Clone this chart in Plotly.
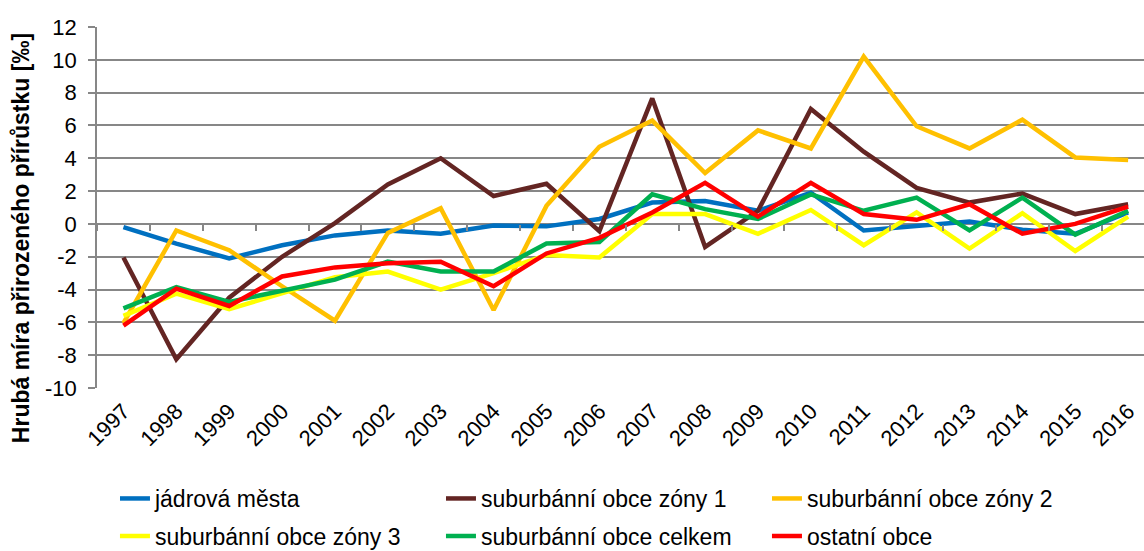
import plotly.graph_objects as go

years = [str(y) for y in range(1997, 2017)]

jadrova_mesta = [-0.2, -1.2, -2.1, -1.3, -0.7, -0.4, -0.6, -0.1, -0.15, 0.3, 1.3, 1.4, 0.8,
                 1.9, -0.4, -0.15, 0.15, -0.35, -0.6, 0.7]
zona1 = [-2.05, -8.25, -4.5, -2.0, 0.05, 2.4, 4.0, 1.7, 2.45, -0.45, 7.65, -1.4, 0.8,
         7.0, 4.4, 2.2, 1.3, 1.85, 0.6, 1.2]
zona2 = [-6.05, -0.4, -1.6, -3.8, -5.9, -0.55, 0.95, -5.25, 1.1, 4.7, 6.3, 3.1, 5.7,
         4.6, 10.2, 5.95, 4.6, 6.35, 4.05, 3.9]
zona3 = [-5.6, -4.25, -5.2, -4.2, -3.25, -2.9, -4.0, -3.0, -1.9, -2.05, 0.6, 0.6, -0.6,
         0.85, -1.3, 0.7, -1.5, 0.65, -1.65, 0.45]
celkem = [-5.15, -3.85, -4.75, -4.05, -3.4, -2.3, -2.9, -2.9, -1.2, -1.1, 1.8, 0.9, 0.3,
          1.8, 0.8, 1.6, -0.4, 1.6, -0.65, 0.8]
ostatni = [-6.2, -3.95, -5.0, -3.2, -2.65, -2.4, -2.3, -3.8, -1.8, -0.85, 0.7, 2.5, 0.45,
           2.5, 0.6, 0.25, 1.2, -0.6, 0.0, 1.05]

y_ticks = list(range(-10, 13, 2))
y_ticktext = [str(v) for v in y_ticks]  # plain hyphen minus as in the reference

series = [
    ("jádrová města", jadrova_mesta, "#0070C0", "legend"),
    ("suburbánní obce zóny 1", zona1, "#632523", "legend"),
    ("suburbánní obce zóny 2", zona2, "#FFC000", "legend"),
    ("suburbánní obce zóny 3", zona3, "#FFFF00", "legend2"),
    ("suburbánní obce celkem", celkem, "#00B050", "legend2"),
    ("ostatní obce", ostatni, "#FF0000", "legend2"),
]

FONT = "Liberation Sans, Arial, sans-serif"
GRID = "#878787"

fig = go.Figure()
for name, vals, color, leg in series:
    fig.add_trace(go.Scatter(
        x=list(range(len(years))), y=vals, name=name, mode="lines",
        line=dict(color=color, width=4.5), legend=leg,
    ))

# helper axis crossing at y=0 with boundary tick marks
fig.add_trace(go.Scatter(x=[0], y=[0], xaxis="x2", mode="markers",
                         marker=dict(opacity=0), showlegend=False, hoverinfo="skip"))

fig.update_layout(
    width=1144, height=551,
    margin=dict(l=97, r=0, t=27, b=163, autoexpand=False),
    paper_bgcolor="white", plot_bgcolor="white",
    font=dict(family=FONT, size=22, color="black"),
    xaxis=dict(
        range=[-0.5, 19.3], tickmode="array",
        tickvals=list(range(len(years))), ticktext=years,
        tickangle=-45, ticks="", showgrid=False, zeroline=False,
        showline=False, ticklabelstandoff=5, automargin=False,
        tickfont=dict(size=22),
    ),
    xaxis2=dict(
        overlaying="x", anchor="free", position=10 / 22, side="bottom",
        range=[-0.5, 19.3], tickmode="array",
        tickvals=[i + 0.5 for i in range(-1, len(years))],
        showticklabels=False, ticks="outside", ticklen=6, tickwidth=1.5,
        tickcolor=GRID, showgrid=False, zeroline=False,
        showline=False,
    ),
    yaxis=dict(
        range=[-10, 12], tickmode="array", tickvals=y_ticks, ticktext=y_ticktext,
        showgrid=True, gridcolor=GRID, gridwidth=1.6,
        zeroline=False, showline=True, linecolor=GRID, linewidth=1.6,
        ticks="outside", ticklen=7, tickwidth=1.5, tickcolor=GRID,
        tickfont=dict(size=22), ticklabelstandoff=7, automargin=False,
    ),
    annotations=[dict(
        text="<b>Hrubá míra přirozeného přírůstku [‰]</b>",
        xref="paper", yref="paper", x=-0.0726, y=0.415,
        xanchor="center", yanchor="middle", textangle=-90,
        showarrow=False, font=dict(size=23, family=FONT),
    )],
    legend=dict(orientation="h", xref="container", yref="container",
                x=0.1005, xanchor="left", y=0.1343, yanchor="top",
                entrywidth=281, entrywidthmode="pixels",
                font=dict(size=23), bgcolor="rgba(0,0,0,0)"),
    legend2=dict(orientation="h", xref="container", yref="container",
                 x=0.1005, xanchor="left", y=0.066, yanchor="top",
                 entrywidth=281, entrywidthmode="pixels",
                 font=dict(size=23), bgcolor="rgba(0,0,0,0)"),
)

fig.write_html(
    "out.html",
    config={"displayModeBar": False},
    post_script="document.body.style.margin='0px';document.body.style.overflow='hidden';",
)
